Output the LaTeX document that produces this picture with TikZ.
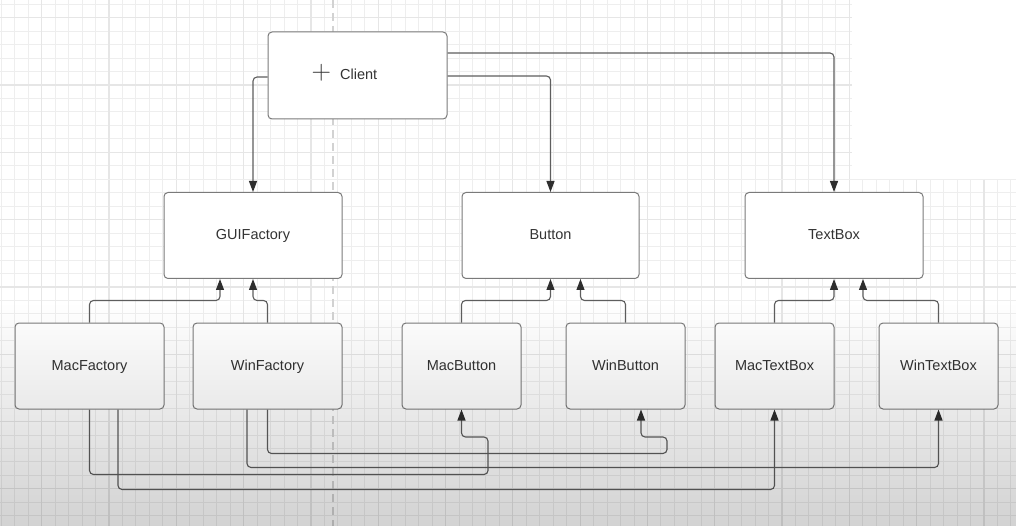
\documentclass[tikz,border=0pt]{standalone}
\usepackage{fontspec}
\newfontfamily\lab{Liberation Sans}
\usetikzlibrary{arrows.meta}
\definecolor{gridminor}{HTML}{EEEEEE}
\definecolor{gridmajor}{HTML}{E6E6E6}
\definecolor{boxborder}{HTML}{7A7A7A}
\definecolor{linec}{HTML}{5E5E5E}
\definecolor{tipc}{HTML}{2E2E2E}
\definecolor{textc}{HTML}{333333}
\definecolor{dashc}{HTML}{D2D2D2}
\newcommand\mygrid[4]{%
  \begin{scope}
    \clip (#1,#2) rectangle (#3,#4);
    \foreach \k in {-4,...,76}{\pgfmathsetmacro\xx{41.7+13.46*\k}\draw[gridminor,line width=0.9pt] (\xx,#2) -- (\xx,#4);}
    \foreach \k in {-3,...,40}{\pgfmathsetmacro\yy{17.7+13.46*\k}\draw[gridminor,line width=0.9pt] (#1,\yy) -- (#3,\yy);}
    \foreach \k in {-5,0,...,75}{\pgfmathsetmacro\xx{41.7+13.46*\k}\draw[gridmajor,line width=1.2pt] (\xx,#2) -- (\xx,#4);}
    \foreach \k in {-5,0,...,40}{\pgfmathsetmacro\yy{17.7+13.46*\k}\draw[gridmajor,line width=1.2pt] (#1,\yy) -- (#3,\yy);}
  \end{scope}}
\tikzset{
  box/.style={draw=boxborder, line width=1pt, rounded corners=4pt, fill=white,
    text=textc, font=\lab\fontsize{14.5}{17}\selectfont, inner sep=0pt,
    text height=10.5pt, text depth=2.5pt, minimum height=86pt},
  conn/.style={draw=linec, line width=1.1pt, rounded corners=4pt,
    -{Triangle[length=11pt,width=8pt,color=tipc]}}
}
\begin{document}
\begin{tikzpicture}[x=1pt,y=-1pt]
\fill[white] (0,0) rectangle (1016,526);
\useasboundingbox (0,0) rectangle (1016,526);
\mygrid{0}{0}{852}{180}
\mygrid{0}{180}{1016}{526}
\draw[dashc, line width=1.2pt, dash pattern=on 8pt off 5pt] (333,0) -- (333,526);

% nodes
\node[box, minimum width=179pt, minimum height=87pt] (Client) at (357.5,75.5)
  {{\rmfamily\fontsize{27}{27}\selectfont +}\hspace{9pt}Client\kern26pt\relax};
\node[box, minimum width=178pt] (GUIFactory) at (253,235.5) {GUIFactory};
\node[box, minimum width=177pt] (Button) at (550.5,235.5) {Button};
\node[box, minimum width=178pt] (TextBox) at (834,235.5) {TextBox};
\node[box, minimum width=149pt] (MacFactory) at (89.5,366) {MacFactory};
\node[box, minimum width=149pt] (WinFactory) at (267.5,366) {WinFactory};
\node[box, minimum width=119pt] (MacButton) at (461.5,366) {MacButton};
\node[box, minimum width=119pt] (WinButton) at (625.5,366) {WinButton};
\node[box, minimum width=119pt] (MacTextBox) at (774.5,366) {MacTextBox};
\node[box, minimum width=119pt] (WinTextBox) at (938.5,366) {WinTextBox};

% client associations
\draw[conn] ([yshift=-1.5pt]Client.west) -| (GUIFactory.north);
\draw[conn] ([yshift=-0.5pt]Client.east) -| (Button.north);
\draw[conn] ([yshift=22.5pt]Client.east) -| (TextBox.north);

% inheritance
\draw[conn] (MacFactory.north) -- ++(0,-22) -| ([xshift=-33pt]GUIFactory.south);
\draw[conn] (WinFactory.north) -- ++(0,-22) -| (GUIFactory.south);
\draw[conn] (MacButton.north) -- ++(0,-22) -| (Button.south);
\draw[conn] (WinButton.north) -- ++(0,-22) -| ([xshift=30pt]Button.south);
\draw[conn] (MacTextBox.north) -- ++(0,-22) -| (TextBox.south);
\draw[conn] (WinTextBox.north) -- ++(0,-22) -| ([xshift=29pt]TextBox.south);

% creation
\coordinate (c1) at (488,437);
\coordinate (c4) at (667,437);
\draw[conn] (MacFactory.south) -- ++(0,65) -| (c1) -| (MacButton.south);
\draw[conn] ([xshift=28.5pt]MacFactory.south) -- ++(0,80) -| (MacTextBox.south);
\draw[conn] ([xshift=-20.5pt]WinFactory.south) -- ++(0,58) -| (WinTextBox.south);
\draw[conn] (WinFactory.south) -- ++(0,44) -| (c4) -| ([xshift=15.5pt]WinButton.south);

% screen shading towards the bottom
\foreach \i in {0,...,45}{
  \pgfmathsetmacro\op{0.18*(\i+0.5)/46}
  \fill[black, fill opacity=\op] (0,{300+\i*5}) rectangle (1016,{305+\i*5});
}
\end{tikzpicture}
\end{document}
